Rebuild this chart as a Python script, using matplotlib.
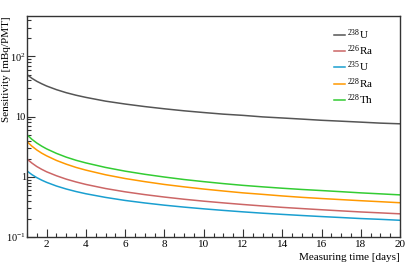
import matplotlib
matplotlib.use("Agg")
import matplotlib.pyplot as plt
import numpy as np
from matplotlib.ticker import FixedLocator, FixedFormatter, MultipleLocator

plt.rcParams['font.family'] = ['Liberation Serif', 'DejaVu Serif']
plt.rcParams['mathtext.fontset'] = 'custom'
plt.rcParams['mathtext.rm'] = 'Liberation Serif'
plt.rcParams['mathtext.it'] = 'Liberation Serif:italic'

# measuring time [days]
tempo = [1, 1.25, 1.5, 1.75, 2, 2.5, 3, 3.5, 4, 5, 6, 7, 8, 9, 10,
         11, 12, 13, 14, 15, 16, 17, 18, 19, 20]

# sensitivity [mBq/PMT]
u238 = [50, 43.4, 38.7, 35.2, 32.3, 28.1, 25.0, 22.7, 20.9, 18.1, 16.2, 14.7, 13.5,
        12.5, 11.7, 11.0, 10.5, 9.9, 9.5, 9.1, 8.7, 8.4, 8.1, 7.8, 7.6]
ra226 = [1.97, 1.69, 1.48, 1.33, 1.21, 1.04, 0.913, 0.82, 0.746, 0.638, 0.562, 0.505,
         0.46, 0.423, 0.393, 0.368, 0.346, 0.327, 0.31, 0.296, 0.283, 0.271, 0.26,
         0.251, 0.242]
u235 = [1.25, 1.086, 0.968, 0.879, 0.808, 0.702, 0.626, 0.568, 0.522, 0.454, 0.404,
        0.367, 0.337, 0.313, 0.293, 0.276, 0.261, 0.248, 0.237, 0.227, 0.218, 0.21,
        0.202, 0.196, 0.189]
ra228 = [3.85, 3.23, 2.79, 2.47, 2.23, 1.87, 1.62, 1.43, 1.29, 1.08, 0.935, 0.83,
         0.745, 0.68, 0.625, 0.58, 0.54, 0.51, 0.48, 0.455, 0.435, 0.417, 0.40, 0.385, 0.37]
th228 = [5.0, 4.20, 3.64, 3.23, 2.91, 2.45, 2.12, 1.88, 1.70, 1.43, 1.24, 1.10, 0.99,
         0.90, 0.83, 0.77, 0.72, 0.68, 0.645, 0.615, 0.59, 0.565, 0.54, 0.52, 0.50]

series = [u238, ra226, u235, ra228, th228]
nomes = ['$^{238}$U', '$^{226}$Ra', '$^{235}$U', '$^{228}$Ra', '$^{228}$Th']
cores = ['#555555', '#cc6666', '#1a9fd0', '#ff9900', '#33cc33']

ytick_val = [0.1, 1, 10, 100]
ytick_txt = ['10$^{-1}$', '1', '10', '10$^{2}$']

fig = plt.figure(figsize=(4.15, 2.68), dpi=100)
ax = fig.add_axes([0.065, 0.116, 0.899, 0.824])

for s, n, c in zip(series, nomes, cores):
    ax.plot(tempo, s, color=c, lw=1.1, label=n)

ax.set_yscale('log')
ax.set_xlim(1, 20)
ax.set_ylim(0.1, 470)

# ticks estilo ROOT
ax.xaxis.set_major_locator(MultipleLocator(2))
ax.xaxis.set_minor_locator(MultipleLocator(0.5))
ax.yaxis.set_major_locator(FixedLocator(ytick_val))
ax.yaxis.set_major_formatter(FixedFormatter(ytick_txt))
ax.tick_params(which='both', direction='in', top=False, right=False,
               labelsize=8, width=0.8, color='#333333')
ax.tick_params(which='major', length=6, pad=2)
ax.tick_params(which='minor', length=3)
ax.tick_params(axis='y', which='major', pad=0.8, labelsize=7.5)
for sp in ax.spines.values():
    sp.set_linewidth(1.0)
    sp.set_color('#333333')
ax.set_xticks([2, 4, 6, 8, 10, 12, 14, 16, 18, 20])

ax.set_xlabel('Measuring time [days]', loc='right', fontsize=8, labelpad=3)
ax.set_ylabel('Sensitivity [mBq/PMT]', loc='top', fontsize=8)
ax.yaxis.set_label_coords(-0.043, 1.0)

ax.legend(loc='upper left', bbox_to_anchor=(0.808, 0.975), frameon=False, fontsize=8,
          handlelength=1.0, handletextpad=0.2, labelspacing=0.15, borderpad=0)

fig.savefig('out.png', dpi=100)
